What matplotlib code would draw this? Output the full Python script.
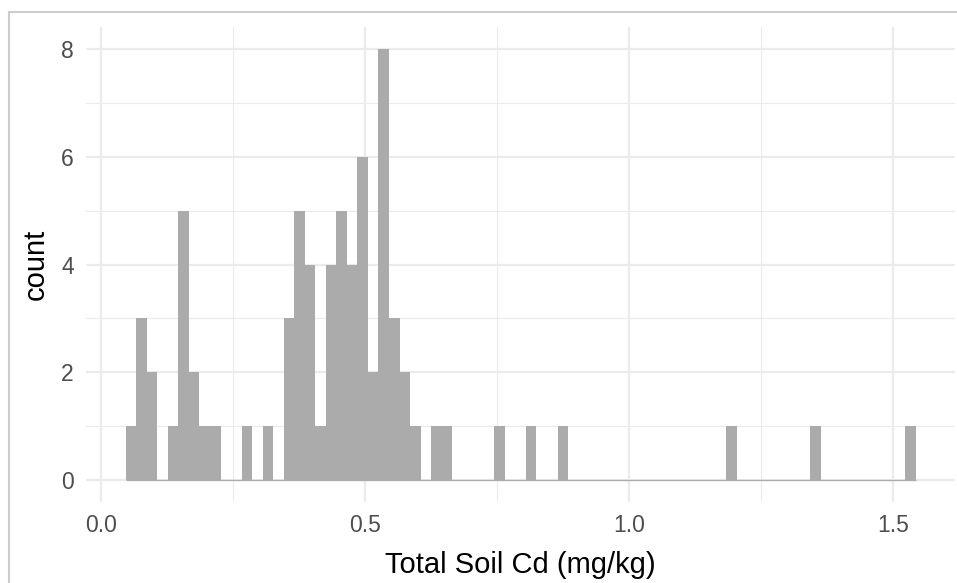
import numpy as np
import matplotlib.pyplot as plt
from matplotlib.lines import Line2D

plt.rcParams['font.family'] = ['Liberation Sans', 'DejaVu Sans']

# Histogram of total soil Cd, 75 bins
bin_lo = 0.047
bin_hi = 1.5425
n_bins = 75
counts = [1, 3, 2, 0, 1, 5, 2, 1, 1, 0,
          0, 1, 0, 1, 0, 3, 5, 4, 1, 4,
          5, 4, 6, 2, 8, 3, 2, 1, 0, 1,
          1, 0, 0, 0, 0, 1, 0, 0, 1, 0,
          0, 1, 0, 0, 0, 0, 0, 0, 0, 0,
          0, 0, 0, 0, 0, 0, 0, 1, 0, 0,
          0, 0, 0, 0, 0, 1, 0, 0, 0, 0,
          0, 0, 0, 0, 1]
x_ticks = [0.0, 0.5, 1.0, 1.5]
x_tick_labels = ['0.0', '0.5', '1.0', '1.5']
y_ticks = [0, 2, 4, 6, 8]

edges = np.linspace(bin_lo, bin_hi, n_bins + 1)
width = edges[1] - edges[0]

W, H = 957, 583
fig = plt.figure(figsize=(W / 100, H / 100), dpi=100)
ax = fig.add_axes([86.3 / W, (H - 501.6) / H, (955 - 86.3) / W, (501.6 - 27.4) / H])

bar_col = '#ABABAB'
ax.hlines(0, edges[0], edges[-1], color=bar_col, lw=0.9, zorder=2)
ax.bar(edges[:-1], counts, width=width, align='edge', color=bar_col, linewidth=0, zorder=3)

ax.use_sticky_edges = False
ax.margins(x=0.05, y=0.05)

ax.set_xticks(x_ticks)
ax.set_xticklabels(x_tick_labels)
ax.set_xticks([0.25, 0.75, 1.25], minor=True)
ax.set_yticks(y_ticks)
ax.set_yticks([1, 3, 5, 7], minor=True)

ax.grid(which='major', color='#EBEBEB', lw=1.6, zorder=0)
ax.grid(which='minor', color='#EBEBEB', lw=0.8, zorder=0)
ax.set_axisbelow(True)
for s in ax.spines.values():
    s.set_visible(False)
ax.tick_params(which='both', length=0, labelsize=16.5, labelcolor='#4D4D4D', pad=9)

ax.set_xlabel('Total Soil Cd (mg/kg)', fontsize=21, color='black', labelpad=10)
ax.set_ylabel('count', fontsize=21, color='black', labelpad=8)

# light frame on the top and left edge
fig.add_artist(Line2D([9 / W, 9 / W], [0, 1 - 11.7 / H], transform=fig.transFigure, color='#CCCCCC', lw=1.5))
fig.add_artist(Line2D([9 / W, 1], [1 - 11.7 / H, 1 - 11.7 / H], transform=fig.transFigure, color='#CCCCCC', lw=1.5))

fig.savefig('out.png', dpi=100)
